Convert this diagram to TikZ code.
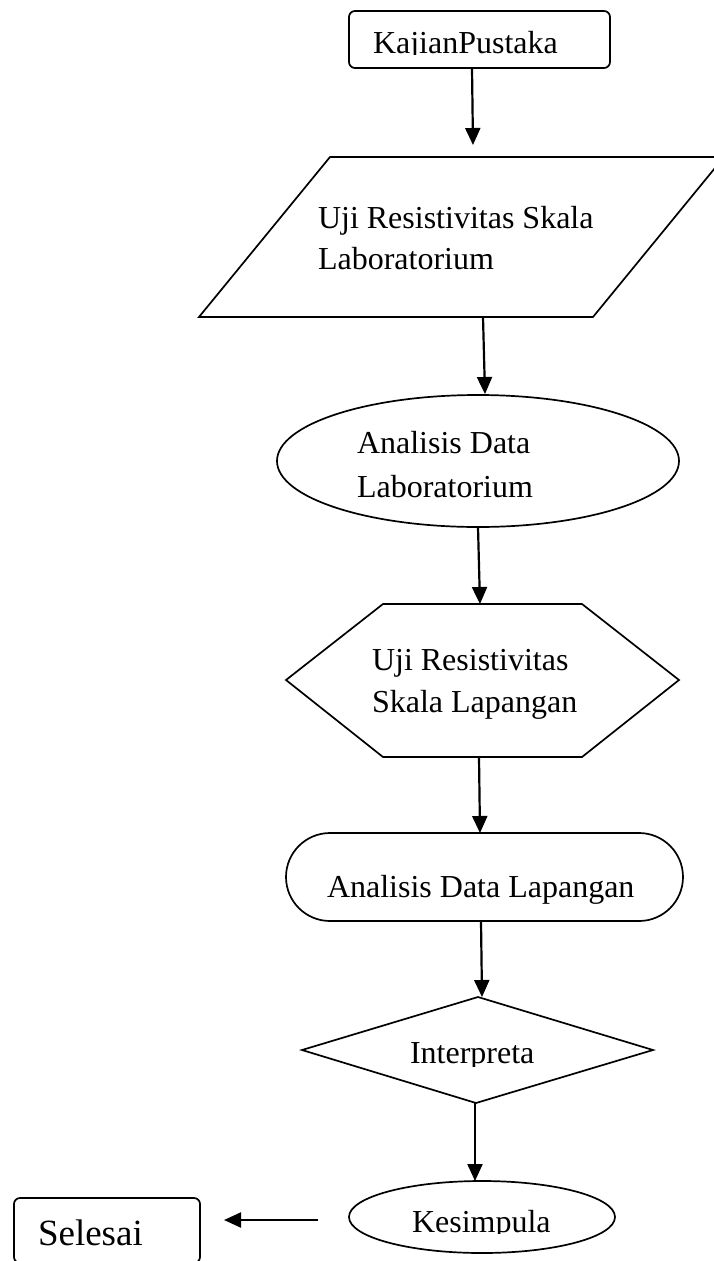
\documentclass[tikz,border=0pt]{standalone}
\usepackage{fontspec}
\setmainfont{Liberation Serif}
\usetikzlibrary{arrows.meta,shapes.geometric}
\tikzset{
  shapeline/.style={draw=black, line width=1.7pt},
  conn/.style={line width=2.2pt, -{Triangle[length=17pt,width=15pt]}},
  txt/.style={anchor=base west, inner sep=0pt, outer sep=0pt, font=\fontsize{32}{38}\selectfont},
  bigtxt/.style={anchor=base west, inner sep=0pt, outer sep=0pt, font=\fontsize{37}{44}\selectfont},
}
\begin{document}
\begin{tikzpicture}[x=1pt,y=-1pt]
\useasboundingbox (0,0) rectangle (713,1261);
\fill[white] (0,0) rectangle (713,1261);

% Kajian Pustaka
\node[shapeline, rectangle, rounded corners=6pt, minimum width=261pt, minimum height=57pt, inner sep=0pt] (kajian) at (479.5,39.5) {};
\begin{scope}
\clip (349,11) rectangle (610,54.5);
\node[txt] (tkajian) at (373,53) {KajianPustaka};
\end{scope}

% Parallelogram
\draw[shapeline, line join=miter] (330,157) -- (724,157) -- (593,317) -- (199,317) -- cycle;
\node[txt] (tuji1) at (318,228) {Uji Resistivitas Skala};
\node[txt] (tuji2) at (318,269) {Laboratorium};

% Ellipse 1
\node[shapeline, ellipse, minimum width=402pt, minimum height=132pt, inner sep=0pt] (analab) at (478,461) {};
\node[txt] (tanalab1) at (357,453) {Analisis Data};
\node[txt] (tanalab2) at (357,497) {Laboratorium};

% Hexagon
\draw[shapeline] (383,604) -- (582,604) -- (679,680) -- (582,757) -- (383,757) -- (286,680) -- cycle;
\node[txt] (tlap1) at (372,670) {Uji Resistivitas};
\node[txt] (tlap2) at (372,712) {Skala Lapangan};

% Stadium
\node[shapeline, rectangle, rounded corners=44pt, minimum width=397pt, minimum height=88pt, inner sep=0pt] (analap) at (484.5,877) {};
\node[txt] (tanalap) at (327,897) {Analisis Data Lapangan};

% Diamond
\draw[shapeline] (478,997) -- (653,1050) -- (476,1103) -- (302,1050) -- cycle;
\begin{scope}
\clip (330,1000) rectangle (620,1066);
\node[txt] (tinterp) at (410,1063) {Interpreta};
\end{scope}

% Kesimpulan ellipse
\node[shapeline, ellipse, minimum width=266pt, minimum height=72pt, inner sep=0pt] (kes) at (482,1217) {};
\begin{scope}
\clip (380,1185) rectangle (600,1233.5);
\node[txt] (tkes) at (412,1232) {Kesimpula};
\end{scope}

% Selesai
\node[shapeline, rectangle, rounded corners=6pt, minimum width=186pt, minimum height=65pt, inner sep=0pt] (selesai) at (107,1230.5) {};
\node[bigtxt] (tsel) at (38,1245) {Selesai};

% connector end points
\coordinate (c1a) at (472,68);   \coordinate (c1b) at (473,145);
\coordinate (c2a) at (483,317);  \coordinate (c2b) at (485,394);
\coordinate (c3a) at (478,527);  \coordinate (c3b) at (480,604);
\coordinate (c4a) at (479,757);  \coordinate (c4b) at (480,833);
\coordinate (c5a) at (481,921);  \coordinate (c5b) at (482,997);
\coordinate (c6a) at (475,1103); \coordinate (c6b) at (475,1181);
\coordinate (c7a) at (318,1220); \coordinate (c7b) at (224,1220);

\draw[conn] (c1a) -- (c1b);
\draw[conn] (c2a) -- (c2b);
\draw[conn] (c3a) -- (c3b);
\draw[conn] (c4a) -- (c4b);
\draw[conn] (c5a) -- (c5b);
\draw[conn] (c6a) -- (c6b);
\draw[conn] (c7a) -- (c7b);
\end{tikzpicture}
\end{document}
